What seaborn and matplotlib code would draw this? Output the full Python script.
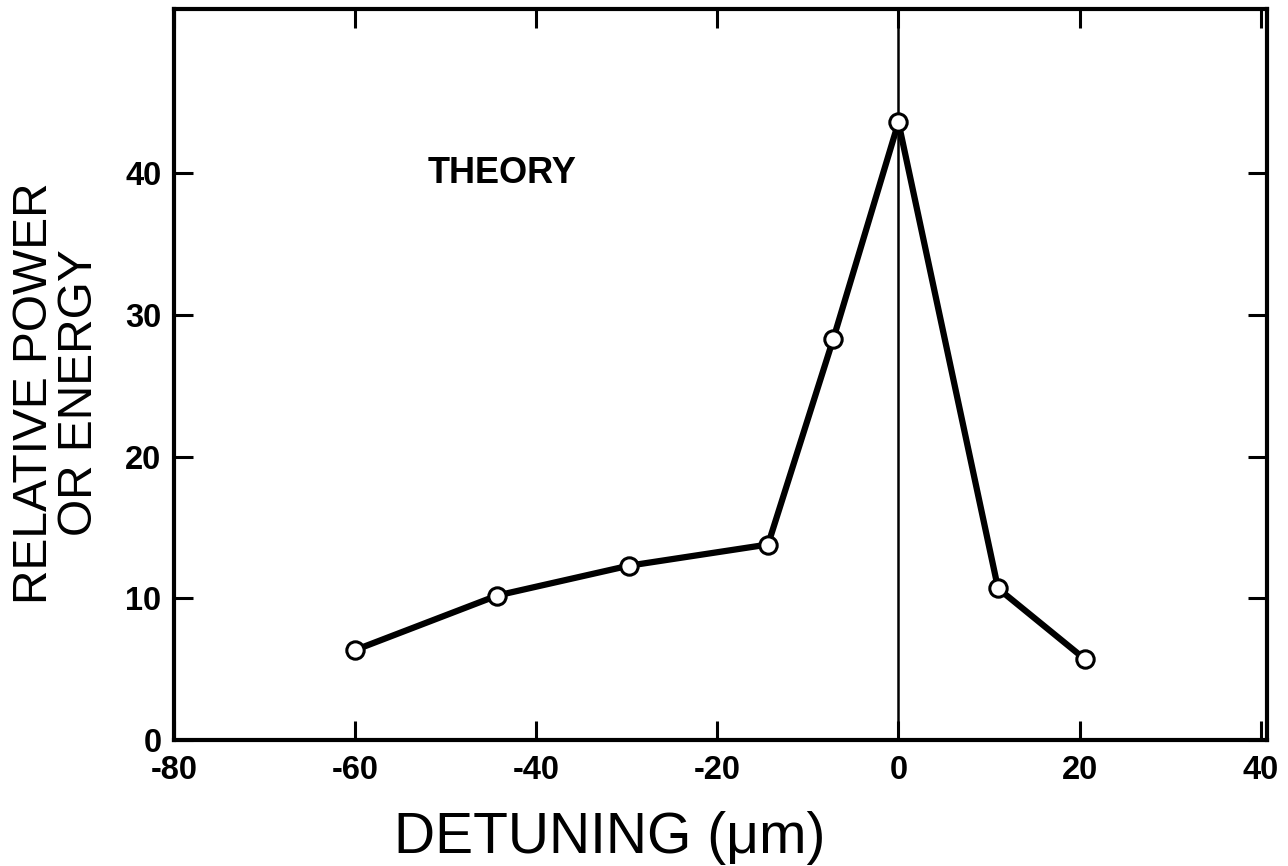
import matplotlib
matplotlib.use("Agg")
import matplotlib.pyplot as plt
import seaborn as sns
import pandas as pd

# Data
detuning = [-60, -44.3, -29.8, -14.4, -7.2, 0, 11.0, 20.6]
power = [6.35, 10.2, 12.3, 13.8, 28.3, 43.6, 10.7, 5.7]
x_ticks = [-80, -60, -40, -20, 0, 20, 40]
y_ticks = [0, 10, 20, 30, 40]

sns.set_theme(style="ticks")
plt.rcParams['font.family'] = ['Liberation Sans', 'DejaVu Sans']
plt.rcParams['text.color'] = 'black'

fig = plt.figure(figsize=(12.88, 8.66), dpi=100)
ax = fig.add_axes([174/1288, 1-740/866, (1267-174)/1288, (740-9)/866])

df = pd.DataFrame({"detuning": detuning, "power": power})
ax.axvline(0, color="black", lw=1.8, zorder=1)
sns.lineplot(data=df, x="detuning", y="power", ax=ax, color="black",
             linewidth=4.5, marker="o", markersize=12.5,
             markerfacecolor="white", markeredgecolor="black",
             markeredgewidth=2.2, sort=False, zorder=3)

ax.set_xlim(-80, 40.7)
ax.set_ylim(0, 51.6)
ax.set_xticks(x_ticks)
ax.set_yticks(y_ticks)
ax.set_xticklabels([str(v) for v in x_ticks], fontweight="bold")
ax.set_yticklabels([str(v) for v in y_ticks], fontweight="bold")
ax.tick_params(axis="both", direction="in", length=14, width=2.2,
               labelsize=23.5, top=True, right=True, pad=9,
               colors="black", labelcolor="black")
ax.tick_params(axis="x", pad=11)
for s in ax.spines.values():
    s.set_linewidth(3.0)
    s.set_color("black")
ax.set_xlabel("")
ax.set_ylabel("")

ax.text(-52, 40.0, "THEORY", fontsize=26, fontweight="bold", ha="left",
        va="center", color="black")

fig.text(610/1288, 1-838/866, "DETUNING (\u03bcm)", fontsize=41, ha="center",
         va="center", color="black")
fig.text(57/1288, 1-393/866, "RELATIVE POWER\nOR ENERGY", fontsize=34.5,
         rotation=90, ha="center", va="center", multialignment="center",
         linespacing=1.0, color="black")

fig.savefig("out.png", dpi=100, facecolor="white")
